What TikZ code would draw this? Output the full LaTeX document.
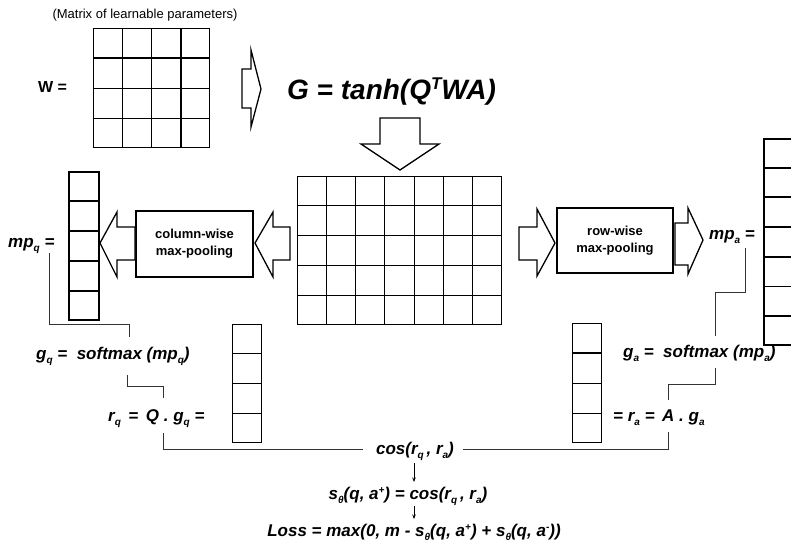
\documentclass[tikz,border=0pt]{standalone}
\usepackage{fontspec}
\setmainfont{Liberation Sans}
\usetikzlibrary{arrows.meta,calc}

% lowered and raised indices for the formula labels
\newcommand\subidx[1]{\raisebox{-4.5pt}{\fontsize{10}{10}\selectfont #1}}
\newcommand\supidx[1]{\raisebox{6pt}{\fontsize{10}{10}\selectfont #1}}

% inner lines of a matrix node: name, columns, rows
\newcommand\cellgrid[3]{%
  \pgfmathtruncatemacro\lastcol{#2-1}%
  \pgfmathtruncatemacro\lastrow{#3-1}%
  \ifnum\lastcol>0
    \foreach \i in {1,...,\lastcol}
      \draw ($(#1.north west)!\i/#2!(#1.north east)$) -- ($(#1.south west)!\i/#2!(#1.south east)$);
  \fi
  \ifnum\lastrow>0
    \foreach \j in {1,...,\lastrow}
      \draw ($(#1.north west)!\j/#3!(#1.south west)$) -- ($(#1.north east)!\j/#3!(#1.south east)$);
  \fi
}

\begin{document}
\begin{tikzpicture}[x=1pt,y=-1pt,
  lbl/.style={font=\fontsize{17}{20}\selectfont\bfseries\itshape, inner sep=0pt},
  mat/.style={draw, line width=1.1pt, inner sep=0pt, anchor=north west},
  thickmat/.style={mat, line width=1.8pt},
  poolbox/.style={draw, line width=1.4pt, inner sep=0pt, align=center,
    font=\fontsize{13}{17}\selectfont\bfseries},
  blockarrow/.style={draw, line width=1.3pt, line join=miter, fill=white},
  link/.style={draw=black!80, line width=0.9pt},
  flow/.style={draw, line width=0.8pt, -{Stealth[length=4.5pt,width=3.5pt]}}]

\useasboundingbox (0,0) rectangle (791,542);

% ---------- parameter matrix W ----------
\node[font=\fontsize{13}{15}\selectfont, inner sep=0pt] (wcap) at (145,15) {(Matrix of learnable parameters)};
\node[font=\fontsize{16}{18}\selectfont\bfseries, inner sep=0pt, anchor=base west] (wlbl) at (38,92) {W =};
\node[mat, line width=1.3pt, minimum width=116, minimum height=119] (W) at (93,28) {};
\begin{scope}[line width=1.3pt]\cellgrid{W}{4}{4}\end{scope}

\draw[blockarrow] (242,69) -- (251,69) -- (251,50) -- (261,89) -- (251,127) -- (251,108) -- (242,108) -- cycle;

\node[font=\fontsize{28}{30}\selectfont\bfseries\itshape, inner sep=0pt, anchor=base west] (glbl) at (287,99)
  {G = tanh(Q\raisebox{9.5pt}{\fontsize{17}{17}\selectfont T}WA)};

\draw[blockarrow] (380,118) -- (420,118) -- (420,144) -- (439,144) -- (400,170) -- (361,144) -- (380,144) -- cycle;

% ---------- attention matrix G ----------
\node[mat, line width=1.1pt, minimum width=204, minimum height=148] (G) at (297,176) {};
\begin{scope}[line width=1.1pt]\cellgrid{G}{7}{5}\end{scope}

% ---------- question side ----------
\draw[blockarrow] (290,227) -- (273,227) -- (273,212) -- (255,243) -- (273,277) -- (273,260) -- (290,260) -- cycle;
\node[poolbox, minimum width=117, minimum height=66] (colpool) at (194.5,244) {column-wise\\ max-pooling};
\draw[blockarrow] (135,227) -- (117,227) -- (117,212) -- (100,243) -- (117,277) -- (117,260) -- (135,260) -- cycle;

\node[thickmat, minimum width=30, minimum height=148] (mpq) at (68,171) {};
\begin{scope}[line width=1.8pt]\cellgrid{mpq}{1}{5}\end{scope}
\node[lbl, anchor=base west] (mpqlbl) at (8,247) {mp\subidx{q} =};

\node[lbl, anchor=base west] (gqlbl) at (36,359) {g\subidx{q} = \ softmax (mp\subidx{q})};
\node[lbl, anchor=base west] (rqlbl) at (108,421) {r\subidx{q} \,= \,Q . g\subidx{q} =};

\node[mat, line width=1.2pt, minimum width=29, minimum height=118] (rq) at (232,324) {};
\begin{scope}[line width=1.2pt]\cellgrid{rq}{1}{4}\end{scope}

% ---------- answer side ----------
\draw[blockarrow] (519,227) -- (537,227) -- (537,209) -- (555,243) -- (537,276) -- (537,260) -- (519,260) -- cycle;
\node[poolbox, minimum width=116, minimum height=65] (rowpool) at (615,240.5) {\raisebox{-2pt}{row-wise}\\ \raisebox{-2pt}{max-pooling}};
\draw[blockarrow] (675,223) -- (688,223) -- (688,208) -- (703,240) -- (688,274) -- (688,265) -- (675,265) -- cycle;

\node[lbl, anchor=base west] (mpalbl) at (709,239) {mp\subidx{a} =};
\node[thickmat, minimum width=29, minimum height=206] (mpa) at (763,138) {};
\begin{scope}[line width=1.8pt]\cellgrid{mpa}{1}{7}\end{scope}

\node[lbl, anchor=base west] (galbl) at (623,357) {g\subidx{a} = \ softmax (mp\subidx{a})};
\node[lbl, anchor=base west] (ralbl) at (613,421) {= r\subidx{a} = \,A . g\subidx{a}};

\node[mat, line width=1.2pt, minimum width=29, minimum height=119] (ra) at (572,323) {};
\begin{scope}[line width=1.2pt]\cellgrid{ra}{1}{4}\end{scope}

% ---------- similarity and loss ----------
\node[lbl, anchor=base] (cosl) at (415,454) {cos(r\subidx{q}\,, r\subidx{a})};
\node[lbl, anchor=base] (score) at (408,499) {s\subidx{θ}(q, a\supidx{+}) = cos(r\subidx{q}\,, r\subidx{a})};
\node[lbl, anchor=base] (loss) at (414,536) {Loss = max(0, m - s\subidx{θ}(q, a\supidx{+}) + s\subidx{θ}(q, a\supidx{-}))};

% ---------- connectors between the formulas ----------
\coordinate (q1) at (49,253);  \coordinate (q1m) at (129,324); \coordinate (q1e) at (129,337);
\coordinate (q2) at (127,375); \coordinate (q2m) at (163,386); \coordinate (q2e) at (163,398);
\coordinate (q3) at (163,433); \coordinate (q3e) at (363,449);
\coordinate (a1) at (745,248); \coordinate (a1m) at (715,292); \coordinate (a1e) at (715,336);
\coordinate (a2) at (715,368); \coordinate (a2m) at (668,384); \coordinate (a2e) at (668,400);
\coordinate (a3) at (668,432); \coordinate (a3e) at (463,449);

\draw[link] (q1) |- (q1m) -- (q1e);
\draw[link] (q2) |- (q2m) -- (q2e);
\draw[link] (q3) |- (q3e);
\draw[link] (a1) |- (a1m) -- (a1e);
\draw[link] (a2) |- (a2m) -- (a2e);
\draw[link] (a3) |- (a3e);

\coordinate (f1s) at (414,463); \coordinate (f1e) at (414,482);
\coordinate (f2s) at (414,506); \coordinate (f2e) at (414,519);
\draw[flow] (f1s) -- (f1e);
\draw[flow] (f2s) -- (f2e);

\end{tikzpicture}
\end{document}
